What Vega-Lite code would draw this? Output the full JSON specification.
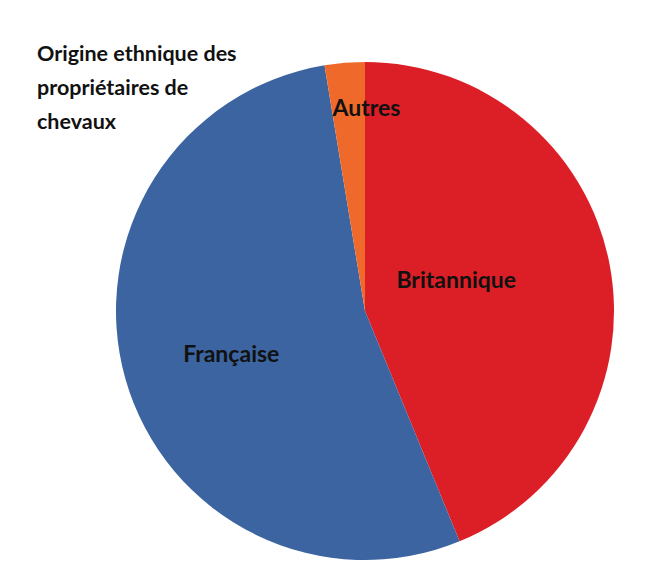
{
  "$schema": "https://vega.github.io/schema/vega-lite/v6.json",
  "width": 498,
  "height": 498,
  "autosize": {"type": "none"},
  "padding": {"left": 116, "top": 62, "right": 33, "bottom": 4},
  "background": "white",
  "config": {"view": {"stroke": null}},
  "title": {
    "text": ["Origine ethnique des", "propriétaires de", "chevaux"],
    "anchor": "start",
    "frame": "group",
    "font": "Lato",
    "fontSize": 21.5,
    "fontWeight": "bold",
    "color": "#111111",
    "lineHeight": 34,
    "offset": 0,
    "dx": -79,
    "dy": 71
  },
  "data": {
    "values": [
      {"origine": "Britannique", "part": 43.8, "rang": 1},
      {"origine": "Française", "part": 53.6, "rang": 2},
      {"origine": "Autres", "part": 2.6, "rang": 3}
    ]
  },
  "encoding": {
    "theta": {"field": "part", "type": "quantitative", "stack": true},
    "order": {"field": "rang", "type": "quantitative"}
  },
  "layer": [
    {
      "mark": {"type": "arc", "outerRadius": 249},
      "encoding": {
        "color": {
          "field": "origine",
          "type": "nominal",
          "scale": {"domain": ["Britannique", "Française", "Autres"], "range": ["#dc1f26", "#3b64a0", "#ef6a2a"]},
          "legend": null
        }
      }
    },
    {
      "mark": {"type": "text", "radius": 93, "dy": -12, "font": "Lato", "fontSize": 23, "fontWeight": "bold", "fill": "#111111"},
      "encoding": {
        "detail": {"field": "origine"},
        "text": {"condition": {"test": "datum.origine === 'Britannique'", "field": "origine"}, "value": ""}
      }
    },
    {
      "mark": {"type": "text", "radius": 139, "dy": 6, "font": "Lato", "fontSize": 23, "fontWeight": "bold", "fill": "#111111"},
      "encoding": {
        "detail": {"field": "origine"},
        "text": {"condition": {"test": "datum.origine === 'Française'", "field": "origine"}, "value": ""}
      }
    },
    {
      "mark": {"type": "text", "radius": 203, "dx": 18, "font": "Lato", "fontSize": 23, "fontWeight": "bold", "fill": "#111111"},
      "encoding": {
        "detail": {"field": "origine"},
        "text": {"condition": {"test": "datum.origine === 'Autres'", "field": "origine"}, "value": ""}
      }
    }
  ]
}
